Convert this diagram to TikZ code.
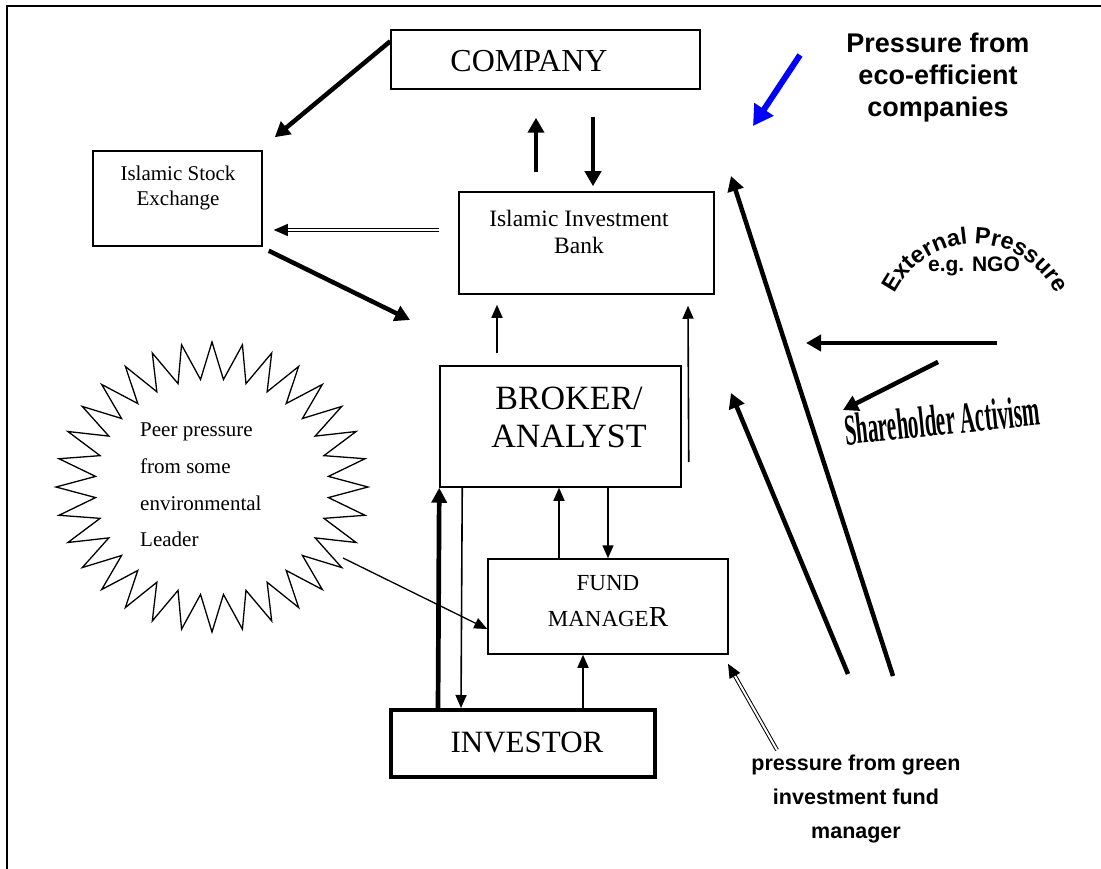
\documentclass[tikz,border=0pt]{standalone}
\usepackage{fontspec}
\setmainfont{Liberation Serif}
\newfontfamily\arialf{Liberation Sans}
\usetikzlibrary{arrows.meta,decorations.text,calc}
\tikzset{
 box/.style={draw,line width=1.5,inner sep=0pt},
 bigtxt/.style={font=\fontsize{32}{38}\selectfont,align=center,inner sep=0pt},
 smalltxt/.style={font=\fontsize{20}{26}\selectfont,align=center,inner sep=0pt},
 thickarr/.style={line width=4.5,-{Triangle[length=15pt,width=16pt]}},
 thinarr/.style={line width=1.6,-{Triangle[length=13pt,width=11pt]}},
 dblarr/.style={double,double distance=2pt,line width=1pt,-{Triangle[length=14pt,width=12pt]}},
 arialtxt/.style={font=\arialf\bfseries\fontsize{21.5}{34}\selectfont,align=center,inner sep=0pt},
}
\begin{document}
\begin{tikzpicture}[x=1pt,y=1pt]
\useasboundingbox (0,0) rectangle (1101,-869);
% frame
\draw[line width=1.5] (7,-869) -- (7,-6) -- (1101,-6);

% boxes
\node[box,minimum width=309,minimum height=59] (company) at (545.5,-59.5) {};
\node[bigtxt] (companytxt) at (529,-61) {COMPANY};
\node[box,minimum width=169,minimum height=95] (stock) at (177.5,-198.5) {};
\node[smalltxt,font=\fontsize{21}{25}\selectfont] (stocktxt) at (178,-188) {Islamic Stock\\Exchange};
\node[box,minimum width=255,minimum height=102] (bank) at (586.5,-243) {};
\node[smalltxt,font=\fontsize{23.5}{27}\selectfont] (banktxt) at (579,-232) {Islamic Investment\\Bank};
\node[box,minimum width=241,minimum height=121] (broker) at (560.5,-426.5) {};
\node[bigtxt,font=\fontsize{34}{38}\selectfont] (brokertxt) at (569,-417) {BROKER/\\ANALYST};
\node[box,minimum width=240,minimum height=95] (fund) at (608,-606.5) {};
\node[inner sep=0pt,align=center,font=\fontsize{23}{36}\selectfont] (fundtxt) at (608,-601) {FUND\\MANAGE{\fontsize{29}{36}\selectfont R}};
\node[draw,line width=4,inner sep=0pt,minimum width=264,minimum height=67] (investor) at (523,-743.5) {};
\node[bigtxt,font=\fontsize{31}{38}\selectfont] (investortxt) at (527,-742) {INVESTOR};

% star
\draw[line width=1.3] plot[samples at={0,...,63},variable=\k]
  ({212+(156-39*isodd(\k))*cos(90+5.625*\k)},{-487+(145-37*isodd(\k))*sin(90+5.625*\k)}) -- cycle;
\node[inner sep=0pt,align=left,anchor=west,font=\fontsize{21}{36.7}\selectfont] (peertxt) at (140,-485)
  {Peer pressure\\from some\\environmental\\Leader};
\coordinate (peerend) at (343,-558);

% right-side texts
\node[arialtxt,font=\arialf\bfseries\fontsize{27}{32}\selectfont] (ecotxt) at (938,-78) {Pressure from\\eco-efficient\\companies};
\path[decorate,decoration={text along path,text align=center,
  text={|\arialf\bfseries\fontsize{23.5}{23.5}\selectfont|External Pressure}}]
  (975,-334) ++(157:90) arc[start angle=157,end angle=23,radius=90];
\node[arialtxt,font=\arialf\bfseries\fontsize{21}{24}\selectfont] (ngotxt) at (974,-266) {e.g. NGO};
\node[inner sep=0pt,font=\bfseries\fontsize{44}{44}\selectfont,rotate=6,xscale=0.48] (sharetxt) at (942,-420) {Shareholder Activism};
\node[arialtxt] (greentxt) at (856,-799) {pressure from green\\investment fund\\manager};

% connectors
\draw[thickarr] ([yshift=-12]company.north west) -- ([xshift=12,yshift=13]stock.north east);
\coordinate (sxend) at (410,-320);
\draw[thickarr] ([xshift=6,yshift=-4]stock.south east) -- (sxend);
\draw[dblarr] ([xshift=-19,yshift=13]bank.west) -- ([xshift=11,yshift=-31.5]stock.east);
\draw[thickarr] ([xshift=-50.5,yshift=19]bank.north) -- ([xshift=-9.5,yshift=-28]company.south);
\draw[thickarr] ([xshift=47.5,yshift=-27]company.south) -- ([xshift=6.5,yshift=5]bank.north);
\draw[thinarr] ([xshift=-63.5,yshift=12]broker.north) -- ([xshift=-89.5,yshift=-10]bank.south);
\draw[thinarr] ([xshift=7,yshift=-35.5]broker.east) -- ([xshift=101.5,yshift=-11]bank.south);
\draw[thinarr] ([xshift=-49]fund.north) -- ([xshift=-1.5]broker.south);
\draw[thinarr] ([xshift=47.5]broker.south) -- (fund.north);
\draw[line width=4.7,-{Triangle[length=15pt,width=15pt]}] ([xshift=49]investor.north west) -- (broker.south west);
\draw[thinarr] ([xshift=23]broker.south west) -- ([xshift=72]investor.north west);
\draw[thinarr] ([xshift=60]investor.north) -- ([xshift=-25]fund.south);
\draw[thinarr,line width=1.3] (peerend) -- ([yshift=-22.5]fund.west);

% right-side pressure arrows
\coordinate (blues) at (800,-55);
\coordinate (bluee) at (753,-126);
\draw[line width=6,blue,-{Triangle[length=20pt,width=22pt]}] (blues) -- (bluee);
\coordinate (l1s) at (893,-676);
\coordinate (l1e) at (731,-176);
\draw[thickarr] (l1s) -- (l1e);
\coordinate (l2s) at (848,-674);
\coordinate (l2e) at (731,-393);
\draw[thickarr] (l2s) -- (l2e);
\coordinate (h1s) at (997,-343);
\coordinate (h1e) at (806,-343);
\draw[thickarr] (h1s) -- (h1e);
\coordinate (d1s) at (938,-362);
\coordinate (d1e) at (843,-410);
\draw[thickarr] (d1s) -- (d1e);
\coordinate (gs) at (777,-750);
\draw[dblarr] (gs) -- ([xshift=120,yshift=-9]fund.south);
\end{tikzpicture}
\end{document}
